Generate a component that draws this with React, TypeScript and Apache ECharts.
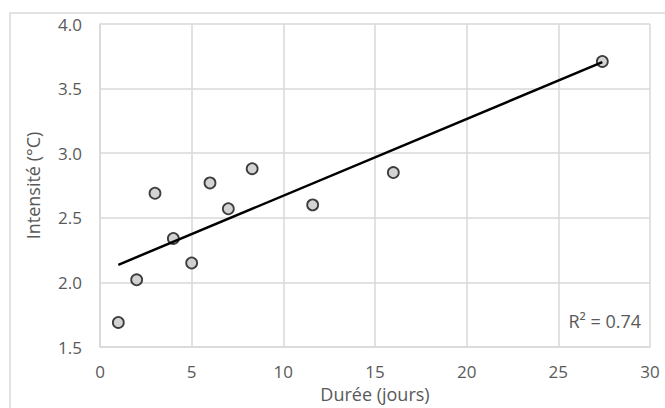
import React, { useEffect, useRef } from "react";
import * as echarts from "echarts";

const durations = [1, 2, 3, 4, 5, 6, 7, 8.3, 11.6, 16, 27.4];
const intensities = [1.69, 2.02, 2.69, 2.34, 2.15, 2.77, 2.57, 2.88, 2.6, 2.85, 3.71];
const xTitle = "Durée (jours)";
const yTitle = "Intensité (°C)";
const r2Label = "R² = 0.74";

function linearFit(xs: number[], ys: number[]) {
  const n = xs.length;
  const mx = xs.reduce((a, b) => a + b, 0) / n;
  const my = ys.reduce((a, b) => a + b, 0) / n;
  let sxy = 0, sxx = 0;
  for (let i = 0; i < n; i++) {
    sxy += (xs[i] - mx) * (ys[i] - my);
    sxx += (xs[i] - mx) * (xs[i] - mx);
  }
  const slope = sxy / sxx;
  const intercept = my - slope * mx;
  return { slope, intercept };
}

export default function App() {
  const ref = useRef<HTMLDivElement>(null);
  useEffect(() => {
    if (!ref.current) return;
    const chart = echarts.init(ref.current, undefined, { renderer: "svg" });
    const { slope, intercept } = linearFit(durations, intensities);
    const xMin = Math.min(...durations);
    const xMax = Math.max(...durations);
    const trend = [
      [xMin, intercept + slope * xMin],
      [xMax, intercept + slope * xMax],
    ];
    const font = "Open Sans";
    const textColor = "#595959";
    const gridColor = "#d9d9d9";
    chart.setOption({
      animation: false,
      backgroundColor: "#ffffff",
      grid: { left: 100, right: 15, top: 24, bottom: 61, containLabel: false },
      graphic: [
        {
          type: "rect",
          shape: { x: 10, y: 13, width: 700, height: 420 },
          style: { fill: "none", stroke: gridColor, lineWidth: 1.5 },
          silent: true,
          z: -10,
        },
        {
          type: "text",
          right: 24,
          top: 312,
          style: { text: r2Label, fill: textColor, font: `18px "${font}"` },
          z: 10,
        },
      ],
      xAxis: {
        type: "value",
        min: 0,
        max: 30,
        interval: 5,
        name: xTitle,
        nameLocation: "middle",
        nameGap: 37,
        nameTextStyle: { color: textColor, fontSize: 18, fontFamily: font },
        axisLine: { show: true, lineStyle: { color: gridColor, width: 1.5 } },
        axisTick: { show: false },
        axisLabel: { color: textColor, fontSize: 17, fontFamily: font, margin: 16 },
        splitLine: { show: true, lineStyle: { color: gridColor, width: 1.5 } },
      },
      yAxis: {
        type: "value",
        min: 1.5,
        max: 4.0,
        interval: 0.5,
        name: yTitle,
        nameLocation: "middle",
        nameGap: 58,
        nameTextStyle: { color: textColor, fontSize: 18, fontFamily: font },
        axisLine: { show: true, lineStyle: { color: gridColor, width: 1.5 } },
        axisTick: { show: false },
        axisLabel: {
          color: textColor,
          fontSize: 17,
          fontFamily: font,
          margin: 18,
          formatter: (v: number) => v.toFixed(1),
        },
        splitLine: { show: true, lineStyle: { color: gridColor, width: 1.5 } },
      },
      series: [
        {
          type: "scatter",
          data: durations.map((x, i) => [x, intensities[i]]),
          symbol: "circle",
          symbolSize: 11,
          itemStyle: { color: "#c8c8c8", borderColor: "#111111", borderWidth: 1.8 },
          z: 2,
        },
        {
          type: "line",
          data: trend,
          showSymbol: false,
          symbol: "none",
          lineStyle: { color: "#000000", width: 2.5 },
          z: 3,
        },
      ],
    });
    return () => chart.dispose();
  }, []);
  return (
    <div
      ref={ref}
      style={{ position: "fixed", left: 0, top: 0, width: 665, height: 408 }}
    />
  );
}
